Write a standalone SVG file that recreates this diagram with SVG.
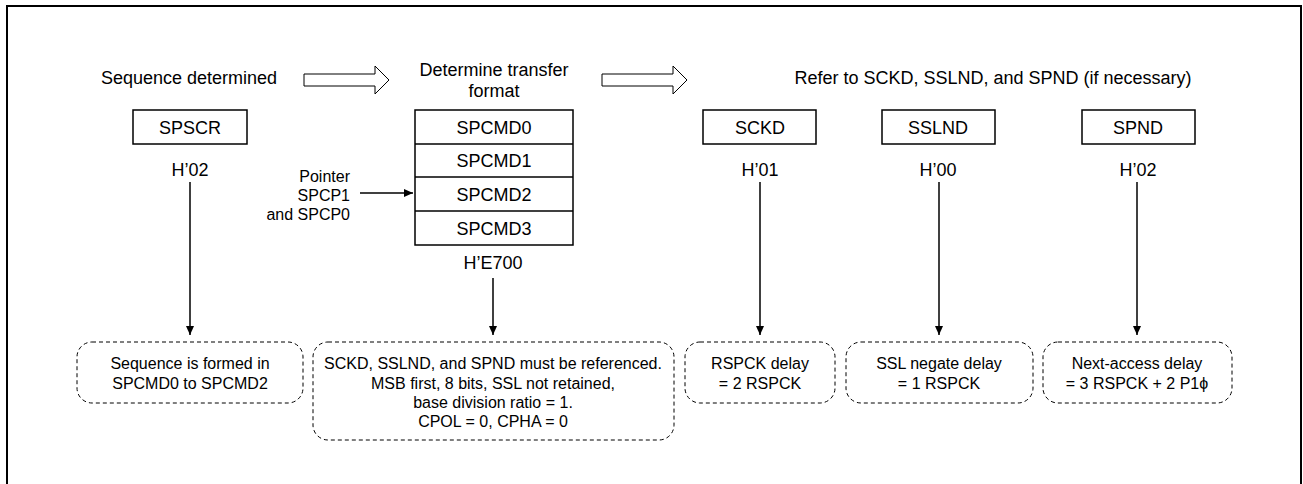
<svg xmlns="http://www.w3.org/2000/svg" width="1303" height="484" viewBox="0 0 1303 484">
<defs>
<style>
text{font-family:"Liberation Sans",Arial,sans-serif;fill:#000}
.h{font-size:18px;text-anchor:middle}
.s{font-size:16px;text-anchor:middle}
.p{font-size:16px;text-anchor:end}
.box{fill:#fff;stroke:#000;stroke-width:1.5}
.dash{fill:#fff;stroke:#000;stroke-width:1;stroke-dasharray:4 3}
.hollow{fill:#fff;stroke:#000;stroke-width:1}
.ln{stroke:#000;stroke-width:1.5;fill:none}
</style>
<marker id="ah" markerWidth="10" markerHeight="10" refX="9" refY="4" orient="auto" markerUnits="userSpaceOnUse">
<path d="M0,0 L9,4 L0,8 Z" fill="#000"/>
</marker>
</defs>
<rect x="0" y="0" width="1303" height="484" fill="#fff"/>
<rect x="7" y="6" width="1294" height="520" fill="none" stroke="#000" stroke-width="2"/>

<g id="headers">
<text class="h" x="189" y="84">Sequence determined</text>
<text class="h" x="494" y="76">Determine transfer</text>
<text class="h" x="494" y="97">format</text>
<text class="h" x="993" y="84">Refer to SCKD, SSLND, and SPND (if necessary)</text>
<path class="hollow" d="M304,74 H375 V66 L389,80 L375,94 V86 H304 Z"/>
<path class="hollow" d="M602,74 H673 V66 L687,80 L673,94 V86 H602 Z"/>
</g>

<g id="spscr">
<rect class="box" x="133" y="110" width="114" height="34"/>
<text class="h" x="190" y="134">SPSCR</text>
<text class="h" x="190" y="176">H’02</text>
</g>

<g id="spcmd">
<rect class="box" x="415" y="110" width="158" height="135"/>
<line class="ln" x1="415" y1="144" x2="573" y2="144"/>
<line class="ln" x1="415" y1="177" x2="573" y2="177"/>
<line class="ln" x1="415" y1="211" x2="573" y2="211"/>
<text class="h" x="494" y="134">SPCMD0</text>
<text class="h" x="494" y="167">SPCMD1</text>
<text class="h" x="494" y="201">SPCMD2</text>
<text class="h" x="494" y="235">SPCMD3</text>
<text class="h" x="493" y="269">H’E700</text>
</g>

<g id="pointer">
<text class="p" x="350" y="182">Pointer</text>
<text class="p" x="350" y="201">SPCP1</text>
<text class="p" x="350" y="220">and SPCP0</text>
</g>

<g id="sckd">
<rect class="box" x="703" y="110" width="113" height="34"/>
<text class="h" x="760" y="134">SCKD</text>
<text class="h" x="760" y="176">H’01</text>
</g>

<g id="sslnd">
<rect class="box" x="882" y="110" width="113" height="34"/>
<text class="h" x="938" y="134">SSLND</text>
<text class="h" x="938" y="176">H’00</text>
</g>

<g id="spnd">
<rect class="box" x="1082" y="110" width="113" height="34"/>
<text class="h" x="1138" y="134">SPND</text>
<text class="h" x="1138" y="176">H’02</text>
</g>

<g id="connectors">
<line class="ln" x1="360" y1="193" x2="413" y2="193" marker-end="url(#ah)"/>
<line class="ln" x1="190" y1="182" x2="190" y2="335" marker-end="url(#ah)"/>
<line class="ln" x1="493" y1="278" x2="493" y2="335" marker-end="url(#ah)"/>
<line class="ln" x1="760" y1="182" x2="760" y2="335" marker-end="url(#ah)"/>
<line class="ln" x1="939" y1="182" x2="939" y2="335" marker-end="url(#ah)"/>
<line class="ln" x1="1137" y1="182" x2="1137" y2="335" marker-end="url(#ah)"/>
</g>

<g id="note1">
<rect class="dash" x="77" y="342" width="226" height="61" rx="15" ry="15"/>
<text class="s" x="190" y="369">Sequence is formed in</text>
<text class="s" x="190" y="389">SPCMD0 to SPCMD2</text>
</g>

<g id="note2">
<rect class="dash" x="313" y="342" width="361" height="98" rx="15" ry="15"/>
<text class="s" x="493" y="369">SCKD, SSLND, and SPND must be referenced.</text>
<text class="s" x="493" y="389">MSB first, 8 bits, SSL not retained,</text>
<text class="s" x="493" y="408">base division ratio = 1.</text>
<text class="s" x="493" y="427">CPOL = 0, CPHA = 0</text>
</g>

<g id="note3">
<rect class="dash" x="685" y="342" width="150" height="61" rx="15" ry="15"/>
<text class="s" x="760" y="369">RSPCK delay</text>
<text class="s" x="760" y="389">= 2 RSPCK</text>
</g>

<g id="note4">
<rect class="dash" x="846" y="342" width="187" height="61" rx="15" ry="15"/>
<text class="s" x="939" y="369">SSL negate delay</text>
<text class="s" x="939" y="389">= 1 RSPCK</text>
</g>

<g id="note5">
<rect class="dash" x="1043" y="342" width="189" height="61" rx="15" ry="15"/>
<text class="s" x="1137" y="369">Next-access delay</text>
<text class="s" x="1137" y="389">= 3 RSPCK + 2 P1ϕ</text>
</g>
</svg>
